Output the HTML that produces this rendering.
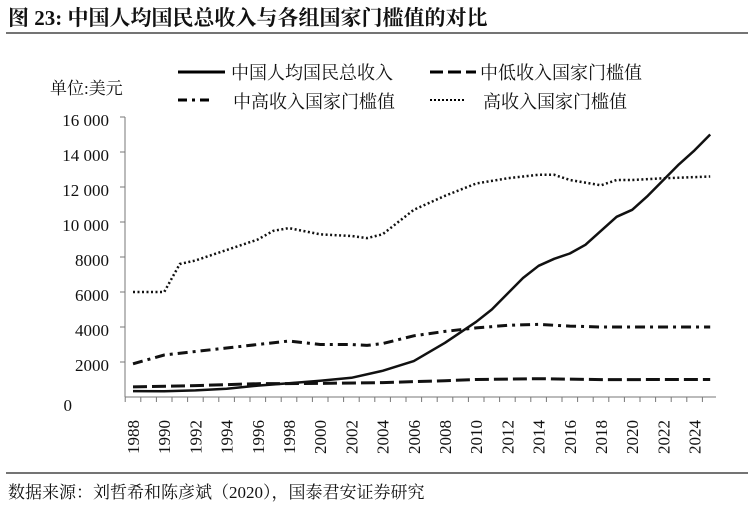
<!DOCTYPE html><html><head><meta charset="utf-8"><style>
body{margin:0;background:#fff;width:754px;height:512px;overflow:hidden}
text{font-family:"Liberation Serif","Noto Serif CJK SC",serif;fill:#111}
</style></head><body>
<svg width="754" height="512" xmlns="http://www.w3.org/2000/svg">
<text x="8" y="25" font-size="21" font-weight="bold">图 23:  中国人均国民总收入与各组国家门槛值的对比</text>
<line x1="6" y1="33" x2="748" y2="33" stroke="#222" stroke-width="1.2"/>
<text x="50" y="94" font-size="17">单位:美元</text>
<line x1="178" y1="72" x2="225" y2="72" stroke="#000" stroke-width="3"/>
<text x="231" y="79" font-size="18">中国人均国民总收入</text>
<line x1="430" y1="72" x2="476" y2="72" stroke="#000" stroke-width="3" stroke-dasharray="13,5"/>
<text x="480" y="79" font-size="18">中低收入国家门槛值</text>
<line x1="178" y1="100" x2="212" y2="100" stroke="#000" stroke-width="3" stroke-dasharray="9,5,3,5"/>
<text x="233" y="108" font-size="18">中高收入国家门槛值</text>
<line x1="430" y1="100" x2="466" y2="100" stroke="#000" stroke-width="2" stroke-dasharray="2,2"/>
<text x="483" y="108" font-size="18">高收入国家门槛值</text>
<line x1="125" y1="117" x2="125" y2="397" stroke="#777"/>
<line x1="125" y1="397" x2="716" y2="397" stroke="#777"/>
<g stroke="#777">
<line x1="120" y1="117" x2="125" y2="117"/><line x1="120" y1="152" x2="125" y2="152"/><line x1="120" y1="187" x2="125" y2="187"/><line x1="120" y1="222" x2="125" y2="222"/><line x1="120" y1="257" x2="125" y2="257"/><line x1="120" y1="292" x2="125" y2="292"/><line x1="120" y1="327" x2="125" y2="327"/><line x1="120" y1="362" x2="125" y2="362"/>
</g>
<g font-size="17" text-anchor="end">
<text x="109" y="126">16 000</text><text x="109" y="161">14 000</text><text x="109" y="196">12 000</text><text x="109" y="231">10 000</text><text x="109" y="266">8000</text><text x="109" y="301">6000</text><text x="109" y="336">4000</text><text x="109" y="371">2000</text><text x="72" y="411">0</text>
</g>
<g id="xt" stroke="#777"></g>
<g id="xl" font-size="17"></g>
<polyline id="hi" fill="none" stroke="#111" stroke-width="2.5" stroke-dasharray="2,2.5"/>
<polyline id="um" fill="none" stroke="#111" stroke-width="3" stroke-dasharray="10,5,3,5"/>
<polyline id="lm" fill="none" stroke="#111" stroke-width="3" stroke-dasharray="14,5"/>
<polyline id="cn" fill="none" stroke="#111" stroke-width="2.5" stroke-linejoin="round"/>
<line x1="6" y1="473" x2="748" y2="473" stroke="#222" stroke-width="1.2"/>
<text x="8" y="498" font-size="17">数据来源：刘哲希和陈彦斌（2020），国泰君安证券研究</text>
</svg>
<script>
const X=y=>133+(y-1988)*15.6, Y=v=>397-v*35/2000;
function set(id,d){document.getElementById(id).setAttribute('points',d.map(p=>X(p[0]).toFixed(1)+','+Y(p[1]).toFixed(1)).join(' '));}
set('cn',[[1988,340],[1990,330],[1992,380],[1994,470],[1996,650],[1998,790],[2000,930],[2002,1100],[2004,1500],[2006,2050],[2008,3100],[2010,4300],[2011,5000],[2012,5900],[2013,6800],[2014,7500],[2015,7900],[2016,8200],[2017,8700],[2018,9500],[2019,10300],[2020,10700],[2021,11500],[2022,12400],[2023,13300],[2024,14100],[2025,15000]]);
set('lm',[[1988,580],[1992,650],[1996,760],[2000,780],[2004,825],[2008,930],[2010,1000],[2014,1045],[2018,995],[2025,1000]]);
set('um',[[1988,1900],[1990,2400],[1992,2600],[1994,2800],[1996,3000],[1998,3200],[2000,3000],[2002,3000],[2003,2950],[2004,3050],[2006,3500],[2008,3750],[2010,3950],[2012,4100],[2014,4150],[2016,4050],[2018,4000],[2025,4000]]);
set('hi',[[1988,6000],[1990,6000],[1991,7600],[1992,7800],[1994,8400],[1996,9000],[1997,9500],[1998,9650],[2000,9300],[2002,9200],[2003,9080],[2004,9300],[2006,10700],[2008,11500],[2010,12200],[2012,12500],[2014,12700],[2015,12700],[2016,12400],[2018,12100],[2019,12400],[2020,12400],[2022,12500],[2025,12600]]);
let t='',l='';
for(let y=1988;y<=2025;y++){const x=X(y)-7.8;t+=`<line x1="${x}" y1="397" x2="${x}" y2="402"/>`;}
for(let y=1988;y<=2024;y+=2){const x=X(y)+6;l+=`<text transform="translate(${x},454) rotate(-90)">${y}</text>`;}
document.getElementById('xt').innerHTML=t;document.getElementById('xl').innerHTML=l;
</script>
</body></html>
